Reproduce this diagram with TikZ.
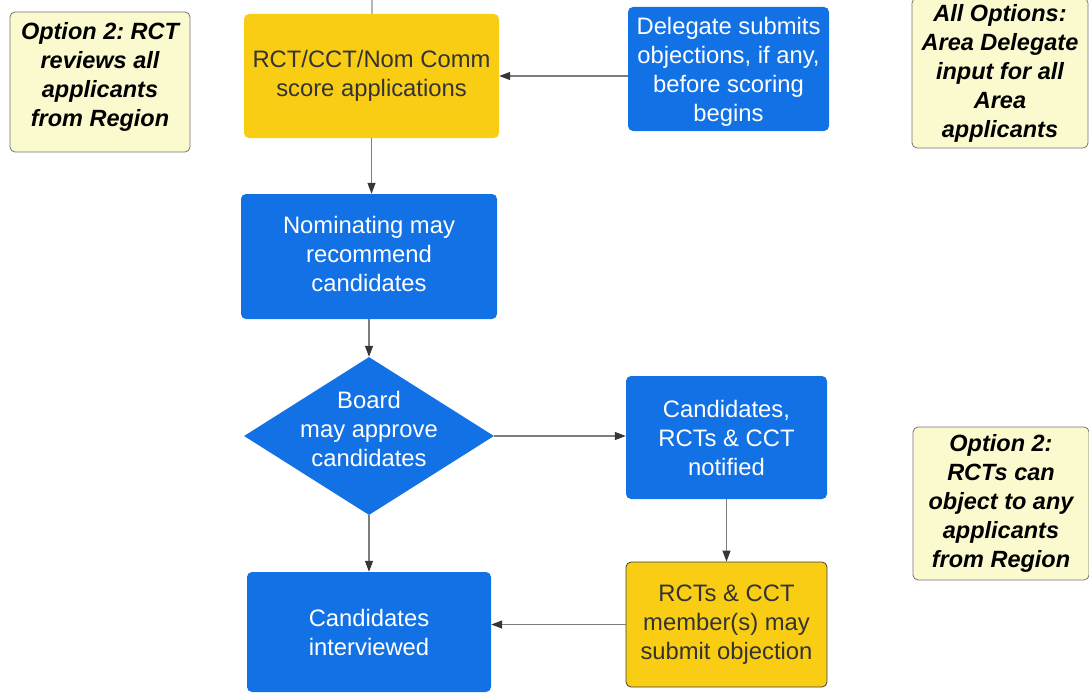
\documentclass[tikz,border=0pt]{standalone}
\usepackage{fontspec}
\setmainfont{Liberation Sans}
\usetikzlibrary{shapes,arrows}
\usetikzlibrary{shapes.geometric}
\usetikzlibrary{calc}
\usetikzlibrary{arrows,arrows.meta}
\usetikzlibrary{positioning}
\definecolor{flowblue}{RGB}{19,113,230}
\definecolor{flowyellow}{RGB}{250,205,21}
\definecolor{notefill}{RGB}{251,250,206}
\definecolor{notedraw}{RGB}{115,115,115}
\definecolor{linkgray}{RGB}{125,125,125}
\definecolor{tipgray}{RGB}{55,55,55}
% extra depth below the last line (moves the text up)
\newcommand{\lowpad}[1]{\rule[-#1]{0pt}{#1}}
% extra height above the first line (moves the text down)
\newcommand{\highpad}[1]{\rule{0pt}{#1}}
\frenchspacing
\begin{document}
\begin{tikzpicture}[%
		x=1pt, y=-1pt,
		>={Triangle[length=11pt,width=8pt,color=tipgray]},
		font=\fontsize{23.8}{29}\selectfont,
		bluebox/.style={rectangle, rounded corners=5pt, fill=flowblue, text=white, align=center, inner sep=0pt},
		yellowbox/.style={rectangle, rounded corners=5pt, fill=flowyellow, text=black!80, align=center, inner sep=0pt},
		notebox/.style={rectangle, rounded corners=5pt, fill=notefill, draw=notedraw, line width=0.8pt, align=center, inner sep=0pt, font=\fontsize{23.5}{29}\selectfont\bfseries\itshape},
		link/.style={line width=1.2pt, linkgray}
		]
		% 1089 x 693
		\useasboundingbox (0,0) rectangle (1089,693);
		%%%%%%%%%%%%%%%
		%    NODES    %
		%%%%%%%%%%%%%%%
		% Notes
		\node[notebox, minimum width=180pt, minimum height=140pt] (optA) at (100,82) {Option 2: RCT\\reviews all\\applicants\\from Region\lowpad{16pt}};
		\node[notebox, minimum width=176pt, minimum height=150pt] (optB) at (1000,73) {All Options:\\Area Delegate\\input for all\\Area\\applicants};
		\node[notebox, minimum width=176pt, minimum height=153pt] (optC) at (1001,503.5) {Option 2:\\RCTs can\\object to any\\applicants\\from Region};
		
		% Scoring
		\node[yellowbox, minimum width=255pt, minimum height=124pt] (score) at (371.5,76) {RCT/CCT/Nom Comm\\score applications};
		\node[bluebox, minimum width=201pt, minimum height=124pt] (deleg) at (728.5,69) {\highpad{22pt}Delegate submits\\objections, if any,\\before scoring\\begins};
		
		% Nominating
		\node[bluebox, minimum width=256pt, minimum height=125pt] (nom) at (369,256.5) {Nominating may\\recommend\\candidates\lowpad{6pt}};
		
		% Board
		\node[shape=diamond, aspect=1.582, fill=flowblue, text=white, align=center, inner sep=-10pt, minimum width=250pt, minimum height=158pt] (board) at (369,436) {Board\\may approve\\candidates\lowpad{14pt}};
		\node[bluebox, minimum width=201pt, minimum height=123pt] (notif) at (726.5,437.5) {Candidates,\\RCTs \& CCT\\notified};
		
		% Interviews
		\node[bluebox, minimum width=244pt, minimum height=120pt] (interv) at (369,632) {Candidates\\interviewed};
		\node[yellowbox, draw=black!75, line width=0.8pt, minimum width=201pt, minimum height=125pt] (objec) at (726.5,624.5) {RCTs \& CCT\\member(s) may\\submit objection};
		
		\coordinate (feed) at (372,0);
		
		%%%%%%%%%%%%%%%
		% CONNECTIONS %
		%%%%%%%%%%%%%%%
		\draw[link, linkgray!55] (feed) -- (score.north -| feed);
		
		\draw[link, ->] (deleg.west |- score.east) -- (score.east);
		
		\draw[link, ->] (score.south) -- (nom.north -| score.south);
		
		\draw[link, ->] (nom.south) -- (board.north);
		
		\draw[link, ->] (board.east) -- (board.east -| notif.west);
		
		\draw[link, ->] (board.south) -- (interv.north);
		
		\draw[link, ->] (notif.south) -- (objec.north);
		
		\draw[link, ->] (objec.west) -- (objec.west -| interv.east);
		
	\end{tikzpicture}
\end{document}
